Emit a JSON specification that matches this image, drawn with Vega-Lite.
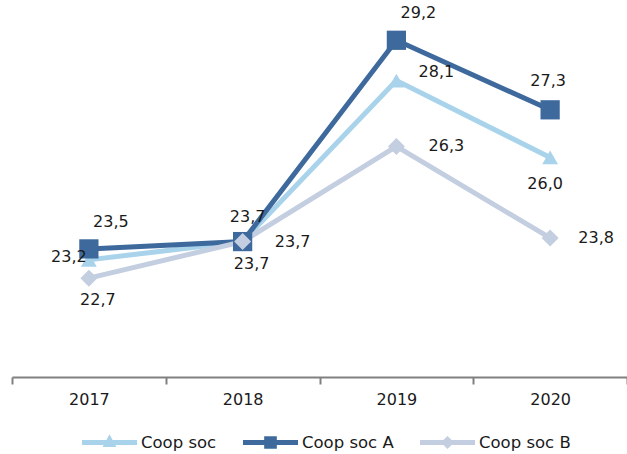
{
  "$schema": "https://vega.github.io/schema/vega-lite/v6.json",
  "autosize": "none",
  "width": 615,
  "height": 366,
  "padding": {"left": 12, "top": 11, "right": 0, "bottom": 77},
  "config": {
    "view": {"stroke": null},
    "locale": {"number": {"decimal": ",", "thousands": ".", "grouping": [3], "currency": ["", "€"]}},
    "font": "DejaVu Sans",
    "text": {"fontSize": 16, "color": "#1a1a1a"},
    "legend": {
      "orient": "none", "direction": "horizontal", "legendX": 70, "legendY": 404,
      "symbolSize": 3025, "symbolOpacity": 1, "symbolStrokeWidth": 0,
      "labelFontSize": 16.5, "labelColor": "#1a1a1a", "labelOffset": 4, "columnPadding": 26
    }
  },
  "data": {
    "values": [
      {"year": "2017", "series": "Coop soc", "value": 23.2},
      {"year": "2018", "series": "Coop soc", "value": 23.7},
      {"year": "2019", "series": "Coop soc", "value": 28.1},
      {"year": "2020", "series": "Coop soc", "value": 26.0},
      {"year": "2017", "series": "Coop soc A", "value": 23.5},
      {"year": "2018", "series": "Coop soc A", "value": 23.7},
      {"year": "2019", "series": "Coop soc A", "value": 29.2},
      {"year": "2020", "series": "Coop soc A", "value": 27.3},
      {"year": "2017", "series": "Coop soc B", "value": 22.7},
      {"year": "2018", "series": "Coop soc B", "value": 23.7},
      {"year": "2019", "series": "Coop soc B", "value": 26.3},
      {"year": "2020", "series": "Coop soc B", "value": 23.8}
    ]
  },
  "encoding": {
    "x": {
      "field": "year", "type": "ordinal",
      "scale": {"type": "band", "paddingInner": 0, "paddingOuter": 0},
      "axis": {
        "title": null, "labelAngle": 0, "tickBand": "extent",
        "domainColor": "#808080", "domainWidth": 2, "tickColor": "#808080", "tickWidth": 2, "tickSize": 7,
        "labelFontSize": 16, "labelColor": "#1a1a1a", "labelPadding": 7, "grid": false
      }
    },
    "y": {"field": "value", "type": "quantitative", "scale": {"domain": [20, 30], "zero": false}, "axis": null}
  },
  "layer": [
    {"mark": {"type": "line", "strokeWidth": 5}, "encoding": {"color": {
      "field": "series", "type": "nominal", "title": null,
      "scale": {"domain": ["Coop soc", "Coop soc A", "Coop soc B"], "range": ["#a9d3eb", "#3e699d", "#c3cee0"]}
    }}},
    {"transform": [{"filter": "datum.series == 'Coop soc'"}], "mark": {"type": "point", "filled": true, "opacity": 1, "shape": "triangle-up", "size": 250, "color": "#a9d3eb"}},
    {"transform": [{"filter": "datum.series == 'Coop soc A'"}], "mark": {"type": "point", "filled": true, "opacity": 1, "shape": "square", "size": 370, "color": "#3e699d"}},
    {"transform": [{"filter": "datum.series == 'Coop soc B'"}], "mark": {"type": "point", "filled": true, "opacity": 1, "shape": "diamond", "size": 290, "color": "#c3cee0"}},
    {"transform": [{"filter": "datum.series == 'Coop soc A' && (datum.year == '2017' || datum.year == '2019')"}], "mark": {"type": "text", "dx": 22, "dy": -27}, "encoding": {"text": {"field": "value", "format": ".1f"}}},
    {"transform": [{"filter": "datum.series == 'Coop soc A' && datum.year == '2018'"}], "mark": {"type": "text", "dx": 5, "dy": -25}, "encoding": {"text": {"field": "value", "format": ".1f"}}},
    {"transform": [{"filter": "datum.series == 'Coop soc A' && datum.year == '2020'"}], "mark": {"type": "text", "dx": -2, "dy": -29}, "encoding": {"text": {"field": "value", "format": ".1f"}}},
    {"transform": [{"filter": "datum.series == 'Coop soc' && datum.year == '2017'"}], "mark": {"type": "text", "dx": -20, "dy": -3}, "encoding": {"text": {"field": "value", "format": ".1f"}}},
    {"transform": [{"filter": "(datum.series == 'Coop soc' && datum.year == '2018') || (datum.series == 'Coop soc B' && datum.year == '2017')"}], "mark": {"type": "text", "dx": 9, "dy": 22}, "encoding": {"text": {"field": "value", "format": ".1f"}}},
    {"transform": [{"filter": "datum.series == 'Coop soc' && datum.year == '2019'"}], "mark": {"type": "text", "dx": 40, "dy": -9}, "encoding": {"text": {"field": "value", "format": ".1f"}}},
    {"transform": [{"filter": "datum.series == 'Coop soc' && datum.year == '2020'"}], "mark": {"type": "text", "dx": -5, "dy": 27}, "encoding": {"text": {"field": "value", "format": ".1f"}}},
    {"transform": [{"filter": "datum.series == 'Coop soc B' && (datum.year == '2018' || datum.year == '2019')"}], "mark": {"type": "text", "dx": 50}, "encoding": {"text": {"field": "value", "format": ".1f"}}},
    {"transform": [{"filter": "datum.series == 'Coop soc B' && datum.year == '2020'"}], "mark": {"type": "text", "dx": 46}, "encoding": {"text": {"field": "value", "format": ".1f"}}},
    {
      "mark": {"type": "point", "filled": true, "size": 0, "strokeWidth": 0},
      "encoding": {
        "color": {
          "field": "series", "type": "nominal", "title": null,
          "scale": {"domain": ["Coop soc", "Coop soc A", "Coop soc B"], "range": ["#a9d3eb", "#3e699d", "#c3cee0"]}
        },
        "shape": {
          "field": "series", "type": "nominal", "title": null,
          "scale": {"domain": ["Coop soc", "Coop soc A", "Coop soc B"], "range": [
            "M-1,-0.09H1V0.09H-1Z M0,-0.3L0.25,0.16H-0.25Z",
            "M-1,-0.09H1V0.09H-1Z M-0.23,-0.23H0.23V0.23H-0.23Z",
            "M-1,-0.09H1V0.09H-1Z M0,-0.24L0.24,0L0,0.24L-0.24,0Z"
          ]}
        }
      }
    }
  ]
}
